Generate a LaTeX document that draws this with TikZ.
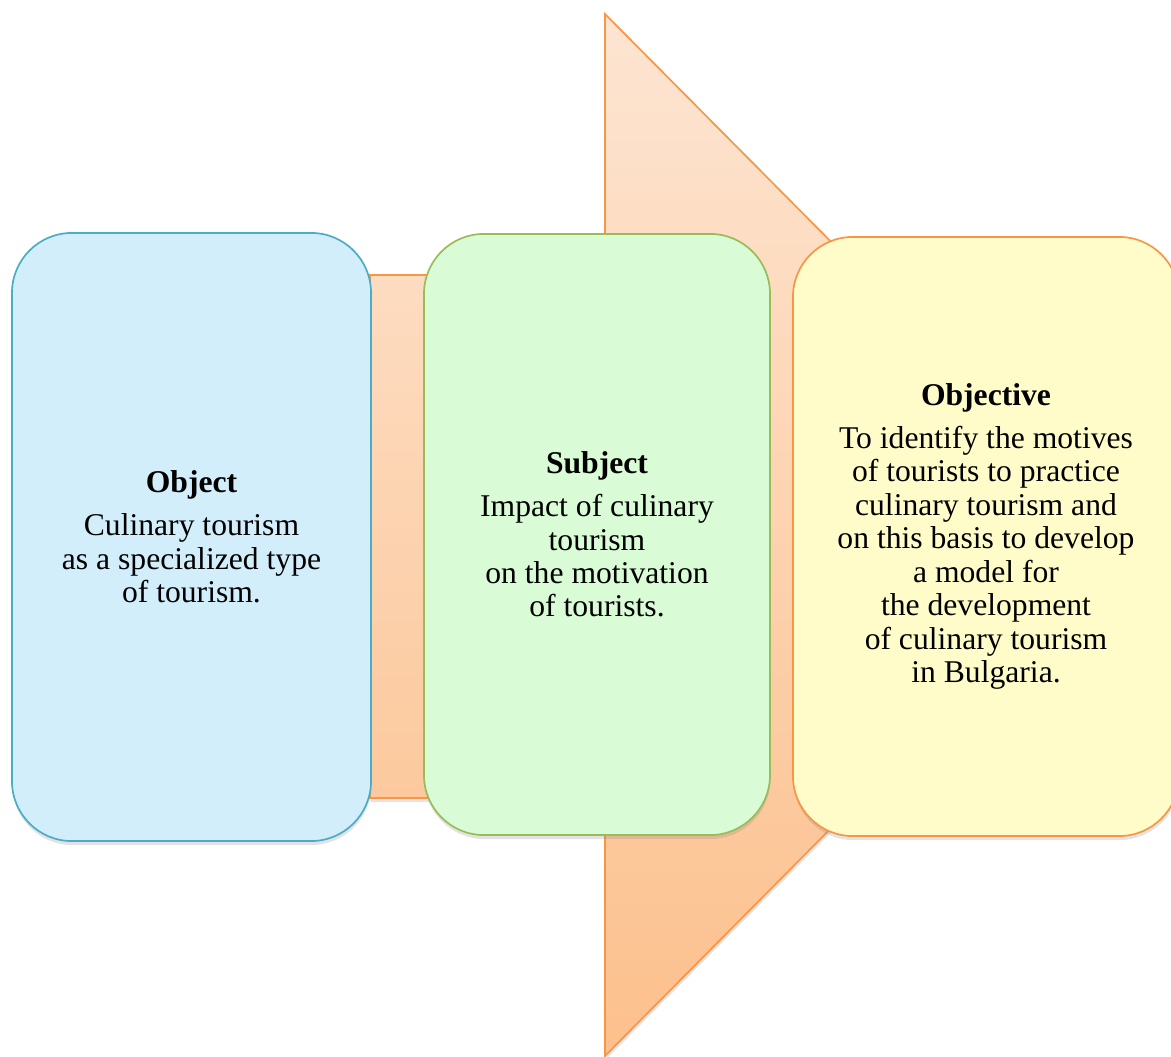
\documentclass[tikz,border=0pt]{standalone}
\usepackage{fontspec}
\setmainfont{Liberation Serif}
\usetikzlibrary{shadows}

\definecolor{arrowline}{HTML}{F79646}
\definecolor{arrowtop}{HTML}{FDE5D2}
\definecolor{arrowbot}{HTML}{FCC08C}
\definecolor{blueline}{HTML}{4BACC6}
\definecolor{bluefill}{HTML}{D3EEFB}
\definecolor{greenline}{HTML}{9BBB59}
\definecolor{greenfill}{HTML}{D9FBD5}
\definecolor{yellowfill}{HTML}{FFFCC9}

\begin{document}
\begin{tikzpicture}[
    x=0.025cm, y=-0.025cm,
    softshadow/.style={drop shadow={opacity=0.22, shadow xshift=0.01cm, shadow yshift=-0.1cm}},
    box/.style={rectangle, rounded corners=1.5cm, line width=1.2pt, inner sep=0pt, align=center, font=\fontsize{22.5}{23.8}\selectfont, softshadow},
    objbox/.style={box, draw=blueline, fill=bluefill},
    subjbox/.style={box, draw=greenline, fill=greenfill},
    goalbox/.style={box, draw=arrowline, fill=yellowfill},
    bigarrow/.style={draw=arrowline, line width=1.2pt, top color=arrowtop, bottom color=arrowbot, softshadow}
]
\useasboundingbox (0,0) rectangle (1171,1057);

% arrow in the background
\path[bigarrow] (370,275) -- (605,275) -- (605,14) -- (1122,535) -- (605,1056) -- (605,798) -- (370,798) -- cycle;

% the three boxes
\node[objbox, minimum width=8.975cm, minimum height=15.2cm] (object) at (191.5,537) {
    \textbf{Object}\\[0.24cm]
    Culinary tourism\\
    as a specialized type\\
    of tourism.
};
\node[subjbox, minimum width=8.65cm, minimum height=15.025cm] (subject) at (597,534.5) {
    \textbf{Subject}\\[0.24cm]
    Impact of culinary\\
    tourism\\
    on the motivation\\
    of tourists.
};
\node[goalbox, minimum width=9.65cm, minimum height=14.975cm] (objective) at (986,536.5) {
    \textbf{Objective}\\[0.24cm]
    To identify the motives\\
    of tourists to practice\\
    culinary tourism and\\
    on this basis to develop\\
    a model for\\
    the development\\
    of culinary tourism\\
    in Bulgaria.
};

\end{tikzpicture}
\end{document}
